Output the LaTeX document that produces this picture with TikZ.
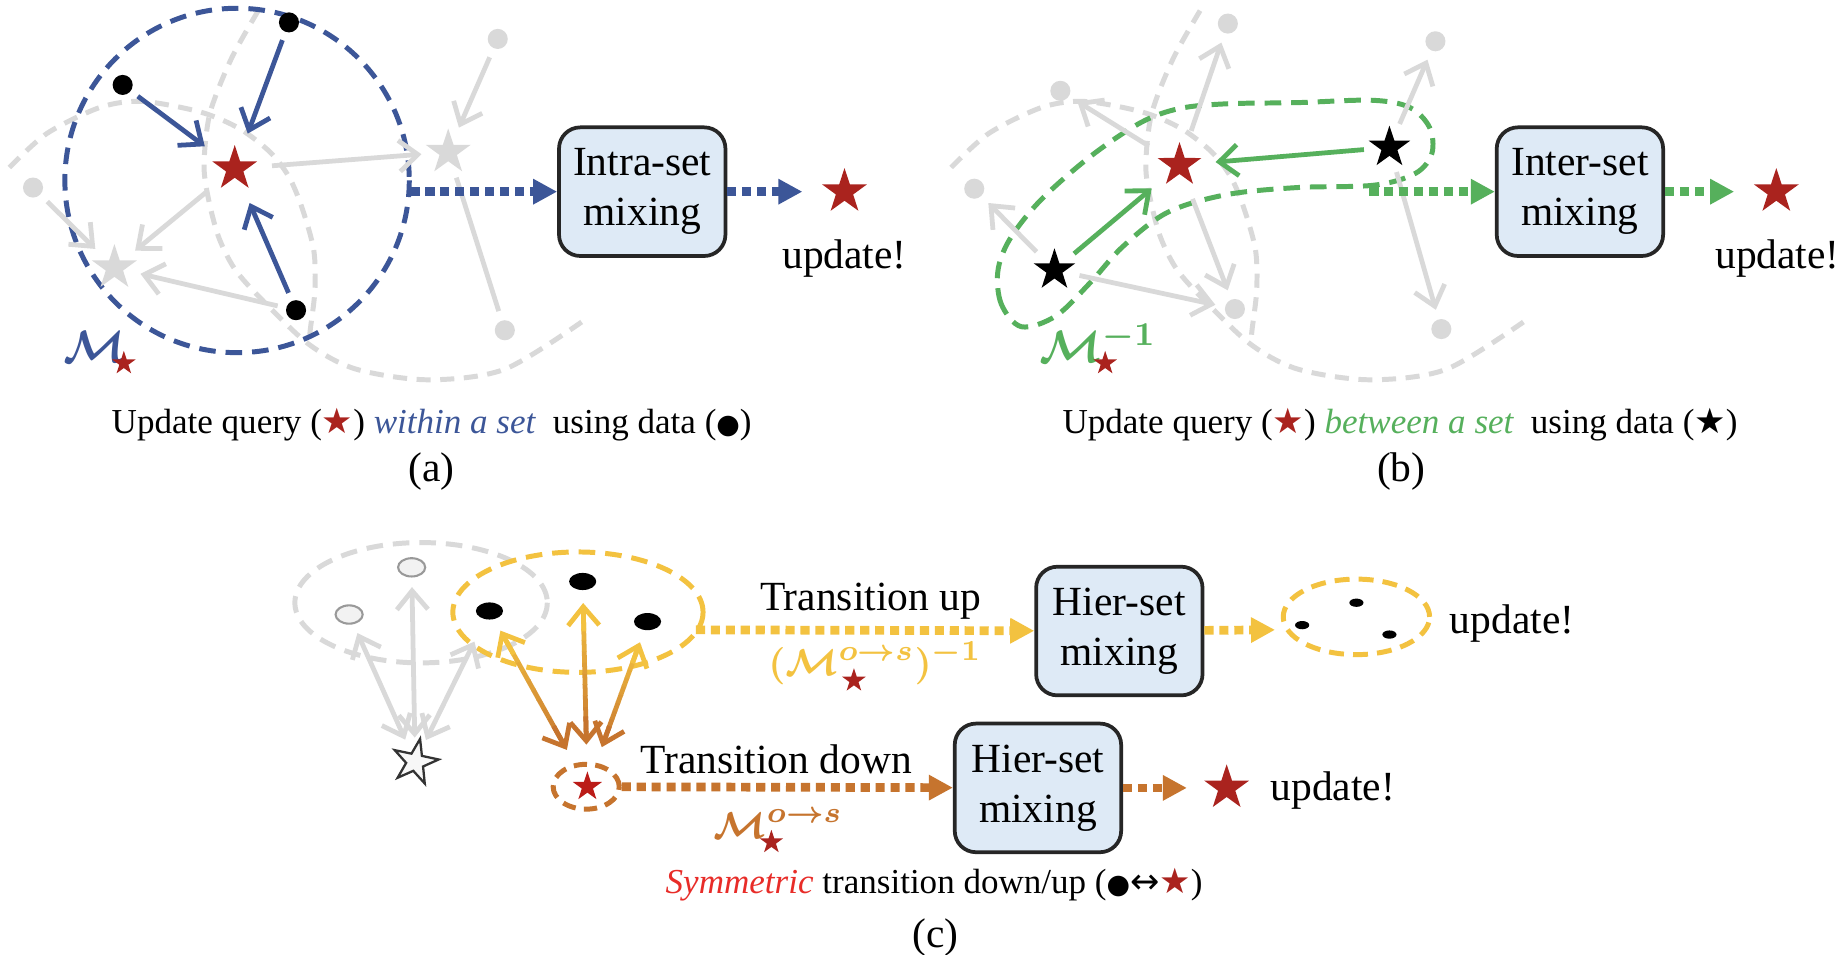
\documentclass[tikz,border=0pt]{standalone}
\usepackage{fontspec}
\setmainfont{Liberation Serif}
\newfontfamily\starfont{DejaVu Sans}
\usetikzlibrary{shapes.geometric,arrows.meta,calc}

\definecolor{qblue}{RGB}{60,86,152}
\definecolor{lgray}{RGB}{217,217,217}
\definecolor{sred}{RGB}{170,35,30}
\definecolor{qgreen}{RGB}{86,176,92}
\definecolor{boxfill}{RGB}{222,234,246}
\definecolor{qyellow}{RGB}{243,194,64}
\definecolor{qorange}{RGB}{198,116,46}
\definecolor{symred}{RGB}{232,44,40}

\newcommand{\dotglyph}{{\fontsize{6.5}{6.5}\selectfont\starfont ●}}
\newcommand{\capstar}[1]{{\starfont\textcolor{#1}{★}}}
\newcommand{\boldlabel}[1]{{\boldmath$#1$}}

\tikzset{
  halo/.style={circle, minimum size=#1, inner sep=0pt, draw=none},
  starshape/.style={star, star points=5, star point ratio=2.6, inner sep=0pt, draw=none, minimum size=#1},
  bdot/.style={circle, fill=black, inner sep=0pt, minimum size=0.17cm, outer sep=0.075cm},
  gdot/.style={circle, fill=lgray, inner sep=0pt, minimum size=0.17cm, outer sep=0.085cm},
  ldot/.style={ellipse, fill=gray!10, draw=gray!80, line width=0.5pt, inner sep=0pt, minimum width=0.23cm, minimum height=0.155cm, outer sep=0.09cm},
  cdot/.style={ellipse, fill=black, inner sep=0pt, minimum width=0.23cm, minimum height=0.145cm, outer sep=0.11cm},
  sdot/.style={ellipse, fill=black, inner sep=0pt, minimum width=0.12cm, minimum height=0.07cm},
  barb/.tip={Straight Barb[length=4.5pt,width=7.5pt]},
  thinarr/.style={line width=1.15pt, -barb},
  dblarr/.style={line width=1.15pt, barb-barb},
  graydash/.style={draw=lgray, line width=1.2pt, dash pattern=on 3.4pt off 2.3pt},
  coldash/.style={line width=1.2pt, dash pattern=on 4pt off 2.4pt},
  thickdot/.style={line width=2.1pt, dash pattern=on 2.2pt off 1.4pt, -{Triangle[length=5.8pt,width=5.8pt]}},
  mixbox/.style={draw=black!85, line width=0.9pt, fill=boxfill, rounded corners=0.18cm, minimum width=1.41cm, minimum height=1.09cm, align=center, font=\fontsize{10}{12}\selectfont, inner sep=0pt},
  bigtext/.style={font=\fontsize{10}{12}\selectfont, inner sep=0pt},
  mtext/.style={font=\fontsize{11}{13}\selectfont, inner sep=0pt},
  mctext/.style={font=\fontsize{9.5}{11}\selectfont, inner sep=0pt},
  captext/.style={font=\fontsize{8.45}{10}\selectfont, inner sep=0pt},
}

\newcommand{\gradarrow}[2]{%
  \path (#1) -- (#2) coordinate[pos=0] (ga0) coordinate[pos=1] (ga1);
  \foreach \k in {0,...,11}{%
    \pgfmathsetmacro\ta{0.03+0.94*\k/12}%
    \pgfmathsetmacro\tb{0.035+0.94*(\k+1)/12}%
    \pgfmathtruncatemacro\mx{100*(\k+0.5)/12}%
    \draw[line width=1.15pt, qyellow!\mx!qorange] ($(ga0)!\ta!(ga1)$) -- ($(ga0)!\tb!(ga1)$);
  }%
  \draw[line width=1.15pt, qorange, -barb] ($(ga0)!0.2!(ga1)$) -- (ga0);
  \draw[line width=1.15pt, qyellow, -barb] ($(ga0)!0.8!(ga1)$) -- (ga1);
}

\begin{document}
\begin{tikzpicture}[x=0.01cm, y=-0.01cm]
\useasboundingbox (0,0) rectangle (1560,809);
\fill[white] (0,0) rectangle (1560,809);

% ================= panel (a) =================
\draw[graydash] plot[smooth] coordinates {(8,142) (40,113) (85,91) (121,86) (170,95) (203,109) (229,129) (245,150) (256,176) (266,212) (267,246) (263,280) (262,292)};
\draw[graydash] plot[smooth] coordinates {(219,9) (196,50) (178,96) (173,138) (176,165) (185,200) (199,228) (222,254) (262,292) (302,313) (363,322) (428,313) (496,271)};
\draw[qblue, coldash] (201,153) circle[radius=146];

\node[halo=0.62cm] (rsA) at (199,143) {};
\node[starshape=0.40cm, fill=sred] (rsAs) at (rsA) {};
\node[halo=0.44cm] (gsA1) at (380,129) {};
\node[starshape=0.40cm, fill=lgray] (gsA1s) at (gsA1) {};
\node[halo=0.44cm] (gsA2) at (97,227) {};
\node[starshape=0.40cm, fill=lgray] (gsA2s) at (gsA2) {};
\node[bdot] (bA1) at (104,72) {};
\node[bdot] (bA2) at (245,19) {};
\node[bdot] (bA3) at (251,263) {};
\node[gdot] (gA1) at (422,33) {};
\node[gdot] (gA2) at (28,159) {};
\node[gdot] (gA3) at (428,280) {};

\draw[thinarr, lgray] (rsA) -- (gsA1);
\draw[thinarr, lgray] (gA1) -- (gsA1);
\draw[lgray, line width=1.15pt] (gsA1) -- (gA3);
\draw[thinarr, lgray] (rsA) -- (gsA2);
\draw[thinarr, lgray] (gA2) -- (gsA2);
\draw[thinarr, lgray] (bA3) -- (gsA2);
\draw[thinarr, qblue] (bA1) -- (rsA);
\draw[thinarr, qblue] (bA2) -- (rsA);
\draw[thinarr, qblue] (bA3) -- (rsA);

\node[mixbox] (boxA) at (544.5,162.5) {Intra-set\\mixing};
\coordinate (cA) at (348,162.5);
\node[halo=0.7cm] (updA) at (716,162.5) {};
\node[starshape=0.40cm, fill=sred] (updAs) at (updA) {};
\draw[thickdot, qblue] (cA) -- (boxA);
\draw[thickdot, qblue] (boxA) -- (updA);
\node[bigtext] (updAt) at (716,219) {update!};
\node[mtext, text=qblue] (mA) at (80,294) {\boldlabel{\mathcal{M}}};
\node[starshape=0.21cm, fill=sred] (mAs) at (105,308) {};
\node[captext] (capA) at (366,360) {Update query (\capstar{sred}) \textcolor{qblue}{\itshape within a set}\ \ using data (\dotglyph)};
\node[bigtext] (labA) at (366,400) {(a)};

% ================= panel (b) =================
\begin{scope}[xshift=7.98cm]
\draw[graydash] plot[smooth] coordinates {(8,142) (40,113) (85,91) (121,86) (170,95) (203,109) (229,129) (245,150) (256,176) (266,212) (267,246) (263,280) (262,292)};
\draw[graydash] plot[smooth] coordinates {(219,9) (196,50) (178,96) (173,138) (176,165) (185,200) (199,228) (222,254) (262,292) (302,313) (363,322) (428,313) (496,271)};
\end{scope}
\draw[qgreen, coldash] plot[smooth cycle, tension=0.55] coordinates {(866,277) (849,258) (846,230) (856,203) (882,170) (924,133) (967,104) (1000,92) (1040,88) (1100,87) (1163,85) (1195,91) (1212,108) (1214,130) (1200,147) (1165,157) (1100,159) (1040,165) (990,180) (952,209) (924,240) (895,268)};

\node[halo=0.60cm] (rsB) at (1000,140) {};
\node[starshape=0.39cm, fill=sred] (rsBs) at (rsB) {};
\node[halo=0.42cm] (bsB1) at (1178,125) {};
\node[starshape=0.37cm, fill=black] (bsB1s) at (bsB1) {};
\node[halo=0.42cm] (bsB2) at (894,229) {};
\node[starshape=0.37cm, fill=black] (bsB2s) at (bsB2) {};
\node[gdot] (gB1) at (1041,20) {};
\node[gdot] (gB2) at (1217,35) {};
\node[gdot] (gB3) at (899,77) {};
\node[gdot] (gB4) at (826,160) {};
\node[gdot] (gB5) at (1047,262) {};
\node[gdot] (gB6) at (1222,279) {};

\draw[thinarr, lgray] (rsB) -- (gB1);
\draw[thinarr, lgray] (rsB) -- (gB3);
\draw[thinarr, lgray] (rsB) -- (gB5);
\draw[thinarr, lgray] (bsB2) -- (gB4);
\draw[thinarr, lgray] (bsB2) -- (gB5);
\draw[thinarr, lgray] (bsB1) -- (gB2);
\draw[thinarr, lgray] (bsB1) -- (gB6);
\draw[thinarr, qgreen] (bsB1) -- (rsB);
\draw[thinarr, qgreen] (bsB2) -- (rsB);

\node[mixbox] (boxB) at (1339.5,162.5) {Inter-set\\mixing};
\coordinate (cB) at (1161,162.5);
\node[halo=0.7cm] (updB) at (1506,162.5) {};
\node[starshape=0.40cm, fill=sred] (updBs) at (updB) {};
\draw[thickdot, qgreen] (cB) -- (boxB);
\draw[thickdot, qgreen] (boxB) -- (updB);
\node[bigtext] (updBt) at (1507,219) {update!};
\node[mtext, text=qgreen] (mB) at (931,291) {\boldlabel{\mathcal{M}^{-1}}};
\node[starshape=0.21cm, fill=sred] (mBs) at (937,308) {};
\node[captext] (capB) at (1187,360) {Update query (\capstar{sred}) \textcolor{qgreen}{\itshape between a set}\ \ using data (\capstar{black})};
\node[bigtext] (labB) at (1188,400) {(b)};

% ================= panel (c) =================
\draw[graydash, dash pattern=on 4pt off 2.4pt] (357,511) ellipse[x radius=107, y radius=51];
\node[ellipse, draw=qyellow, coldash, minimum width=2.12cm, minimum height=1.02cm, inner sep=0pt] (yeC) at (490,519) {};
\node[ldot] (ldC1) at (349,481) {};
\node[ldot] (ldC2) at (296,521) {};
\node[cdot] (bC1) at (415,518) {};
\node[cdot] (bC2) at (494,493) {};
\node[cdot] (bC3) at (549,527) {};
\node[halo=0.40cm] (wsC) at (352,646) {};
\node[starshape=0.40cm, fill=gray!6, draw=black!80, line width=0.55pt, rotate=-12] (wsCs) at (wsC) {};
\node[ellipse, draw=qorange, coldash, dash pattern=on 3.2pt off 2pt, minimum width=0.56cm, minimum height=0.38cm, inner sep=0pt] (oeC) at (497,667) {};
\node[halo=0.70cm] (srsC) at (498,667) {};
\node[starshape=0.26cm, fill=sred!80!red] (srsCs) at (srsC) {};

\draw[dblarr, lgray] (wsC) -- (ldC1);
\draw[dblarr, lgray] (wsC) -- (ldC2);
\draw[dblarr, lgray, shorten >=0.1cm] (wsC) -- (bC1);
\gradarrow{srsC}{bC1}
\gradarrow{srsC}{bC2}
\gradarrow{srsC}{bC3}

% upper row
\node[mixbox] (boxC1) at (949,535) {Hier-set\\mixing};
\coordinate (cC1) at (590,534);
\coordinate (eC1) at (1081,534);
\draw[thickdot, qyellow] (cC1) -- (boxC1);
\draw[thickdot, qyellow] (boxC1) -- (eC1);
\node[ellipse, draw=qyellow, coldash, dash pattern=on 3.6pt off 2.2pt, minimum width=1.24cm, minimum height=0.64cm, inner sep=0pt] (seC) at (1150,523) {};
\node[sdot] (sdC1) at (1150,511) {};
\node[sdot] (sdC2) at (1104,530) {};
\node[sdot] (sdC3) at (1178,538) {};
\node[bigtext] (updC1) at (1282,529) {update!};
\node[bigtext] (tUp) at (738,510) {Transition up};
\node[mctext, text=qyellow] (mC1) at (742,562) {\boldlabel{(\mathcal{M}^{o\rightarrow s}_{\phantom{\star}})^{-1}}};
\node[starshape=0.21cm, fill=sred] (mC1s) at (724,577) {};

% lower row
\node[mixbox] (boxC2) at (880,668) {Hier-set\\mixing};
\node[halo=0.66cm] (updC2) at (1040,668) {};
\node[starshape=0.40cm, fill=sred] (updC2s) at (updC2) {};
\draw[thickdot, qorange] (oeC) -- (boxC2);
\draw[thickdot, qorange] (boxC2) -- (updC2);
\node[bigtext] (updC2t) at (1130,670) {update!};
\node[bigtext] (tDown) at (658,644) {Transition down};
\node[mctext, text=qorange] (mC2) at (660,699) {\boldlabel{\mathcal{M}^{o\rightarrow s}}};
\node[starshape=0.21cm, fill=sred] (mC2s) at (654,714) {};

\node[captext] (capC) at (792,750) {\textcolor{symred}{\itshape Symmetric} transition down/up (\dotglyph{\starfont ↔}\capstar{sred})};
\node[bigtext] (labC) at (793,795) {(c)};
\end{tikzpicture}
\end{document}
